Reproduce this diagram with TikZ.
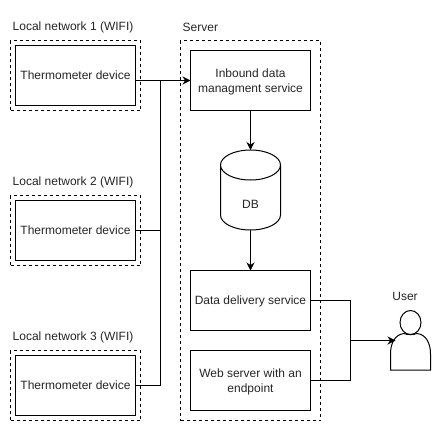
\documentclass[tikz,border=0pt]{standalone}
\usepackage{fontspec}
\setmainfont{Liberation Sans}
\usetikzlibrary{arrows.meta}
\tikzset{
  box/.style={draw=black,line width=1pt,fill=white,minimum width=120pt,minimum height=60pt,align=center,inner sep=0pt,outer sep=0pt,text=black!85,text depth=0pt},
  dashbox/.style={draw=black,line width=1pt,dash pattern=on 3pt off 3pt,inner sep=0pt,outer sep=0pt},
  caption/.style={anchor=west,inner sep=0pt,text=black!85},
  conn/.style={draw=black,line width=1pt},
  arrow/.style={conn,-{Stealth[length=8pt,width=8pt]}},
}
\begin{document}
\begin{tikzpicture}[x=1pt,y=-1pt,font=\fontsize{12}{14.5}\selectfont]
\useasboundingbox (0,0) rectangle (441,431);
\fill[white] (0,0) rectangle (441,431);
% dashed containers
\node[dashbox,minimum width=130pt,minimum height=70pt] (net1) at (75.5,75.5) {};
\node[dashbox,minimum width=130pt,minimum height=70pt] (net2) at (75.5,230.5) {};
\node[dashbox,minimum width=130pt,minimum height=70pt] (net3) at (75.5,385.5) {};
\node[dashbox,minimum width=140pt,minimum height=380pt] (server) at (250.5,230.5) {};
% captions
\node[caption] (l1) at (12.5,27.5) {Local network 1 (WIFI)};
\node[caption] (l2) at (12.5,182.5) {Local network 2 (WIFI)};
\node[caption] (l3) at (12.5,337.5) {Local network 3 (WIFI)};
\node[caption] (ls) at (182.5,27.5) {Server};
\node[inner sep=0pt,text=black!85] (lu) at (405,296.5) {User};
% devices
\node[box] (d1) at (75.5,75.5) {Thermometer device};
\node[box] (d2) at (75.5,230.5) {Thermometer device};
\node[box] (d3) at (75.5,385.5) {Thermometer device};
% services
\node[box] (inb) at (250.5,80.5) {Inbound data\\managment service};
\node[box] (del) at (250.5,300.5) {Data delivery service};
\node[box] (web) at (250.5,380.5) {Web server with an\\endpoint};
% database
\node[minimum width=60pt,minimum height=80pt,inner sep=0pt,outer sep=0pt] (db) at (250.5,190) {};
\draw[line width=1pt,fill=white] (220.5,165) arc[start angle=180,end angle=0,x radius=30,y radius=15]
  -- (280.5,215) arc[start angle=0,end angle=180,x radius=30,y radius=15] -- cycle;
\draw[line width=1pt] (220.5,165) arc[start angle=180,end angle=360,x radius=30,y radius=15];
\node[inner sep=0pt,text=black!85] (dbl) at (250.5,204.5) {DB};
% user
\node[minimum width=40pt,minimum height=60pt,inner sep=0pt,outer sep=0pt] (user) at (410.5,340) {};
\draw[line width=1pt,fill=white] (390.5,370) -- (390.5,354)
  .. controls (390.5,343) and (395,334.5) .. (404,333.5)
  .. controls (408,335) and (413,335) .. (417,333.5)
  .. controls (426,334.5) and (430.5,343) .. (430.5,354)
  -- (430.5,370) -- cycle;
\draw[line width=1pt,fill=white] (410.5,322.5) ellipse[x radius=10.5,y radius=12];
% connectors
\coordinate (busin) at (160.5,80.5);
\coordinate (busout) at (350.5,340.5);
\coordinate (utip) at (395.5,340.5);
\draw[conn] (d1.east |- busin) -- (busin);
\draw[arrow] (d1.east |- busin) -- (inb.west);
\draw[conn] (d2.east) -| (busin);
\draw[conn] (d3.east) -| (busin);
\draw[arrow] (inb.south) -- (db.north);
\draw[arrow] (db.south) -- (del.north);
\draw[conn] (del.east) -| (busout);
\draw[conn] (web.east) -| (busout);
\draw[arrow] (busout) -- (utip);
\end{tikzpicture}
\end{document}
